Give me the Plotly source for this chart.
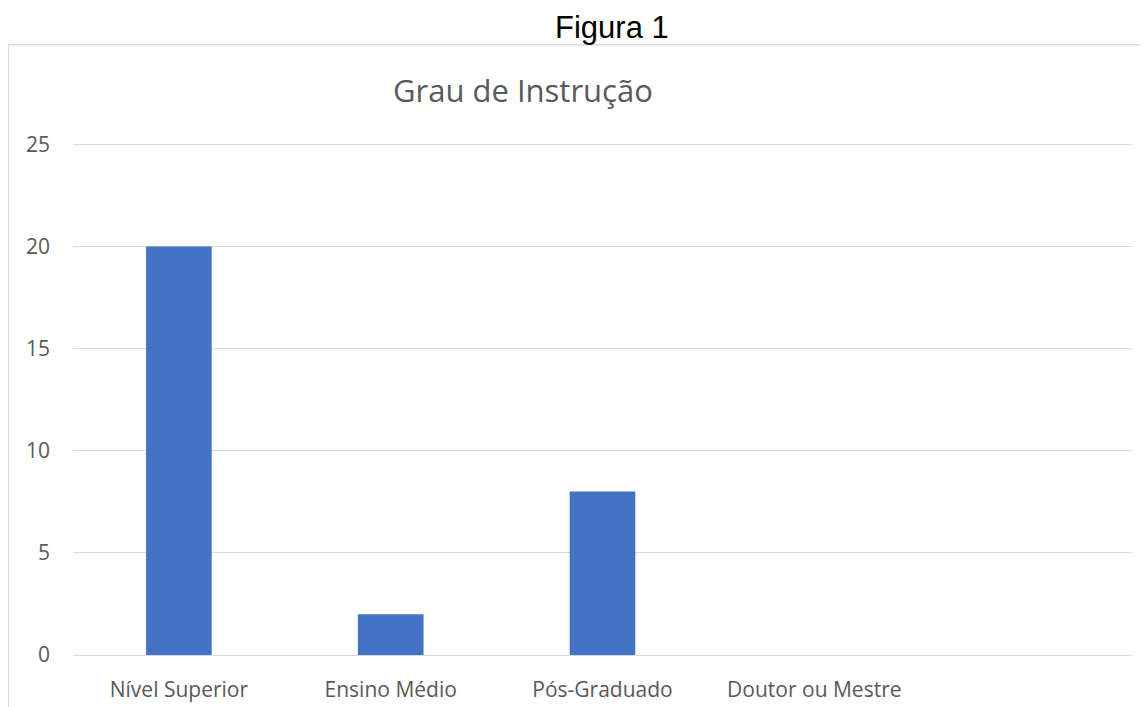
import plotly.graph_objects as go

categories = ["Nível Superior", "Ensino Médio", "Pós-Graduado", "Doutor ou Mestre", " "]
values = [20, 2, 8, 0, None]
y_ticks = [0, 5, 10, 15, 20, 25]

OFF = 8  # page body margin
W, H = 1148 - OFF, 707 - OFF
YMAX = 25.6
UNIT = (655 - 144) / 25.0
PL, PR, PB = 73, 1132, 655
PT = PB - YMAX * UNIT  # plot area top in page pixels
L = PL - OFF
T = PT - OFF
pw = PR - PL
ph = PB - PT
R = W - L - pw
B = H - T - ph

def px(x):
    return (x - PL) / pw

def py(y):
    return (PB - y) / ph

fig = go.Figure(go.Bar(
    x=categories, y=values, marker_color="#4472C4", width=0.31,
    marker_line_width=0,
))

fig.update_layout(
    width=W, height=H,
    margin=dict(l=L, r=R, t=T, b=B, autoexpand=False),
    plot_bgcolor="white", paper_bgcolor="white",
    showlegend=False,
    font=dict(family="Open Sans", color="#595959", size=21),
)
fig.update_xaxes(
    type="category", range=[-0.5, 4.5], showgrid=False, showline=False,
    zeroline=False, ticks="", tickfont=dict(size=21, color="#595959"),
    ticklabelstandoff=20, automargin=False,
)
fig.update_yaxes(
    range=[0, YMAX], tickvals=y_ticks, showgrid=True, gridcolor="#d9d9d9",
    gridwidth=1, zeroline=True, zerolinecolor="#d9d9d9", zerolinewidth=1,
    showline=False, ticks="", tickfont=dict(size=21, color="#595959"),
    ticklabelstandoff=22, automargin=False,
)

fig.add_annotation(text="Figura 1", xref="paper", yref="paper",
                   x=px(612), y=py(27), xanchor="center", yanchor="middle",
                   showarrow=False,
                   font=dict(family="Liberation Sans", size=31, color="black"))
fig.add_annotation(text="Grau de Instrução", xref="paper", yref="paper",
                   x=px(523), y=py(90), xanchor="center", yanchor="middle",
                   showarrow=False,
                   font=dict(family="Open Sans", size=31, color="#595959"))
fig.add_shape(type="rect", xref="paper", yref="paper",
              x0=px(8.5), x1=px(1200), y0=py(720), y1=py(44.5),
              line=dict(color="#d9d9d9", width=1.5), layer="below")

fig.write_html("out.html")
